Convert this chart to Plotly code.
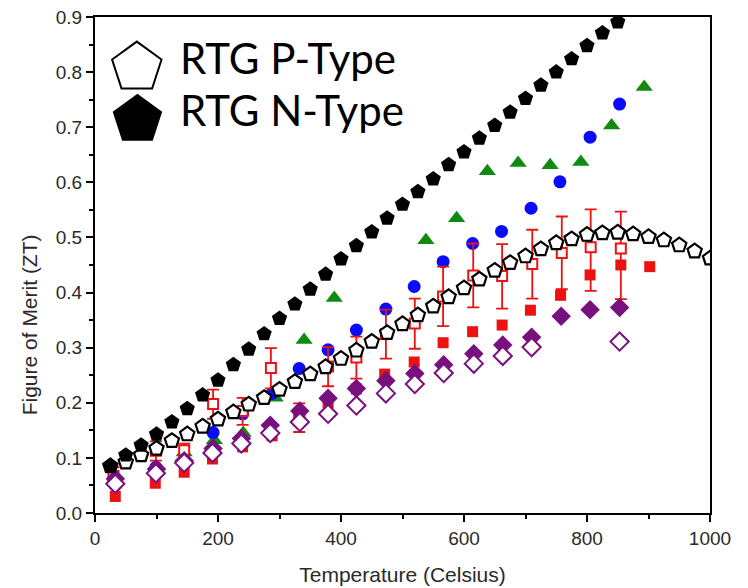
import plotly.graph_objects as go

# ---------------- data ----------------
p_type_T = [25, 50, 75, 100, 125, 150, 175, 200, 225, 250, 275, 300, 325, 350, 375, 400,
            425, 450, 475, 500, 525, 550, 575, 600, 625, 650, 675, 700, 725, 750, 775, 800,
            825, 850, 875, 900, 925, 950, 975, 1000]
p_type_ZT = [0.085, 0.092, 0.105, 0.117, 0.131, 0.143, 0.157, 0.170, 0.183, 0.197, 0.209, 0.224,
             0.238, 0.252, 0.265, 0.280, 0.295, 0.311, 0.327, 0.343, 0.359, 0.375, 0.392, 0.408,
             0.424, 0.440, 0.454, 0.466, 0.479, 0.490, 0.497, 0.505, 0.508, 0.509, 0.506, 0.501,
             0.495, 0.486, 0.475, 0.462]

n_type_T = [25, 50, 75, 100, 125, 150, 175, 200, 225, 250, 275, 300, 325, 350, 375, 400, 425,
            450, 475, 500, 525, 550, 575, 600, 625, 650, 675, 700, 725, 750, 775, 800, 825, 850]
n_type_ZT = [0.086, 0.105, 0.123, 0.143, 0.165, 0.189, 0.214, 0.241, 0.269, 0.297, 0.325, 0.353,
             0.379, 0.406, 0.433, 0.461, 0.485, 0.510, 0.535, 0.560, 0.583, 0.606, 0.632, 0.655,
             0.680, 0.703, 0.727, 0.752, 0.776, 0.800, 0.824, 0.848, 0.871, 0.891]

green_T = [145, 194, 241, 293, 340, 389, 538, 588, 638, 688, 740, 790, 840, 893]
green_ZT = [0.110, 0.132, 0.145, 0.209, 0.314, 0.390, 0.495, 0.535, 0.620, 0.635, 0.631, 0.637,
            0.703, 0.773]

blue_T = [33, 99, 192, 240, 288, 332, 379, 425, 473, 519, 566, 614, 661, 709, 756, 805, 853]
blue_ZT = [0.050, 0.083, 0.146, 0.180, 0.217, 0.262, 0.296, 0.332, 0.370, 0.411, 0.456, 0.489,
           0.511, 0.553, 0.601, 0.682, 0.742]

red_filled_T = [33, 98, 145, 191, 240, 288, 333, 379, 425, 471, 519, 566, 614, 662, 708, 757,
                805, 855, 902]
red_filled_ZT = [0.030, 0.054, 0.074, 0.098, 0.120, 0.140, 0.170, 0.200, 0.225, 0.252, 0.274,
                 0.309, 0.329, 0.341, 0.368, 0.395, 0.432, 0.450, 0.447]

red_open_T = [30, 99, 145, 192, 240, 286, 332, 379, 425, 473, 520, 566, 615, 662, 711, 759, 806, 855]
red_open_ZT = [0.067, 0.113, 0.114, 0.198, 0.185, 0.263, 0.173, 0.266, 0.282, 0.325, 0.344,
               0.393, 0.431, 0.430, 0.452, 0.472, 0.482, 0.480]
red_open_upper = [0.083, 0.130, 0.126, 0.224, 0.209, 0.299, 0.199, 0.301, 0.320, 0.369, 0.389,
                  0.447, 0.489, 0.488, 0.514, 0.538, 0.551, 0.547]
red_open_lower = [0.050, 0.095, 0.101, 0.171, 0.160, 0.226, 0.147, 0.230, 0.244, 0.280, 0.298,
                  0.339, 0.373, 0.371, 0.389, 0.406, 0.403, 0.388]

purple_filled_T = [33, 100, 145, 192, 238, 285, 333, 379, 425, 473, 520, 567, 616, 663, 710,
                   758, 805, 853]
purple_filled_ZT = [0.062, 0.080, 0.095, 0.117, 0.135, 0.159, 0.185, 0.208, 0.226, 0.240, 0.253,
                    0.269, 0.289, 0.305, 0.319, 0.357, 0.369, 0.373]

purple_open_T = [33, 99, 145, 191, 238, 285, 333, 379, 425, 473, 520, 567, 616, 663, 710, 853]
purple_open_ZT = [0.053, 0.072, 0.091, 0.109, 0.126, 0.145, 0.165, 0.180, 0.195, 0.217, 0.234,
                  0.254, 0.271, 0.285, 0.301, 0.311]

legend_labels = ["RTG P-Type", "RTG N-Type"]

x_title = "Temperature (Celsius)"
y_title = "Figure of Merit (ZT)"

# ---------------- figure ----------------
GREEN = "#118a11"
BLUE = "#0a0aff"
RED = "#ee1111"
PURPLE = "#78107e"

fig = go.Figure()

fig.add_trace(go.Scatter(x=green_T, y=green_ZT, mode="markers",
                         marker=dict(symbol="triangle-up", size=15, color=GREEN)))
fig.add_trace(go.Scatter(x=blue_T, y=blue_ZT, mode="markers",
                         marker=dict(symbol="circle", size=13, color=BLUE)))
fig.add_trace(go.Scatter(x=red_filled_T, y=red_filled_ZT, mode="markers",
                         marker=dict(symbol="square", size=11, color=RED)))
err_plus = [u - c for u, c in zip(red_open_upper, red_open_ZT)]
err_minus = [c - l for c, l in zip(red_open_ZT, red_open_lower)]
fig.add_trace(go.Scatter(x=red_open_T, y=red_open_ZT, mode="markers",
                         marker=dict(symbol="square", size=10, color="white",
                                     line=dict(color=RED, width=2)),
                         error_y=dict(type="data", symmetric=False, array=err_plus,
                                      arrayminus=err_minus, color=RED, thickness=1.8, width=6)))
fig.add_trace(go.Scatter(x=purple_filled_T, y=purple_filled_ZT, mode="markers",
                         marker=dict(symbol="diamond", size=15, color=PURPLE)))
fig.add_trace(go.Scatter(x=purple_open_T, y=purple_open_ZT, mode="markers",
                         marker=dict(symbol="diamond", size=14, color="white",
                                     line=dict(color=PURPLE, width=2))))
fig.add_trace(go.Scatter(x=p_type_T, y=p_type_ZT, mode="markers",
                         marker=dict(symbol="pentagon", size=15, color="white",
                                     line=dict(color="black", width=2.2))))
fig.add_trace(go.Scatter(x=n_type_T, y=n_type_ZT, mode="markers",
                         marker=dict(symbol="pentagon", size=16, color="black")))

# legend symbols on an overlay axis (0..1 box)
fig.add_trace(go.Scatter(x=[0.068], y=[0.898], xaxis="x2", yaxis="y2", mode="markers",
                         marker=dict(symbol="pentagon", size=52, color="white",
                                     line=dict(color="black", width=2)),
                         cliponaxis=False))
fig.add_trace(go.Scatter(x=[0.069], y=[0.793], xaxis="x2", yaxis="y2", mode="markers",
                         marker=dict(symbol="pentagon", size=52, color="black"),
                         cliponaxis=False))
for lbl, yy in zip(legend_labels, [0.918, 0.813]):
    fig.add_annotation(x=0.135, y=yy, xref="x2", yref="y2", text=lbl, showarrow=False,
                       xanchor="left", yanchor="middle",
                       font=dict(family="Lato", size=42, color="black"))

axis_font = dict(family="Liberation Sans", size=19, color="#2a2a2a")
title_font = dict(family="Liberation Sans", size=21, color="#2a2a2a")

# y axis title (placed lower than centre, as in the original)
fig.add_annotation(x=-0.106, y=0.38, xref="paper", yref="paper", text=y_title,
                   showarrow=False, textangle=-90, xanchor="center", yanchor="middle",
                   font=title_font)

fig.update_layout(
    width=748, height=588,
    margin=dict(l=95, r=38, t=17, b=75),
    paper_bgcolor="white", plot_bgcolor="white",
    showlegend=False,
    xaxis=dict(range=[0, 1000], tickmode="linear", tick0=0, dtick=200,
               ticks="outside", ticklen=7, tickwidth=2, tickcolor="black",
               minor=dict(ticks="outside", ticklen=4, tickwidth=2, tickcolor="black", dtick=100),
               showline=True, linewidth=2, linecolor="black", mirror=True,
               showgrid=False, zeroline=False, tickfont=axis_font, automargin=False,
               title=dict(text=x_title, font=title_font, standoff=20)),
    yaxis=dict(range=[0, 0.9], tickmode="linear", tick0=0, dtick=0.1, tickformat=".1f",
               ticks="outside", ticklen=7, tickwidth=2, tickcolor="black",
               minor=dict(ticks="outside", ticklen=4, tickwidth=2, tickcolor="black", dtick=0.05),
               showline=True, linewidth=2, linecolor="black", mirror=True,
               showgrid=False, zeroline=False, tickfont=axis_font, automargin=False),
    xaxis2=dict(range=[0, 1], overlaying="x", visible=False, fixedrange=True),
    yaxis2=dict(range=[0, 1], overlaying="y", visible=False, fixedrange=True),
)

fig.write_html("out.html")
